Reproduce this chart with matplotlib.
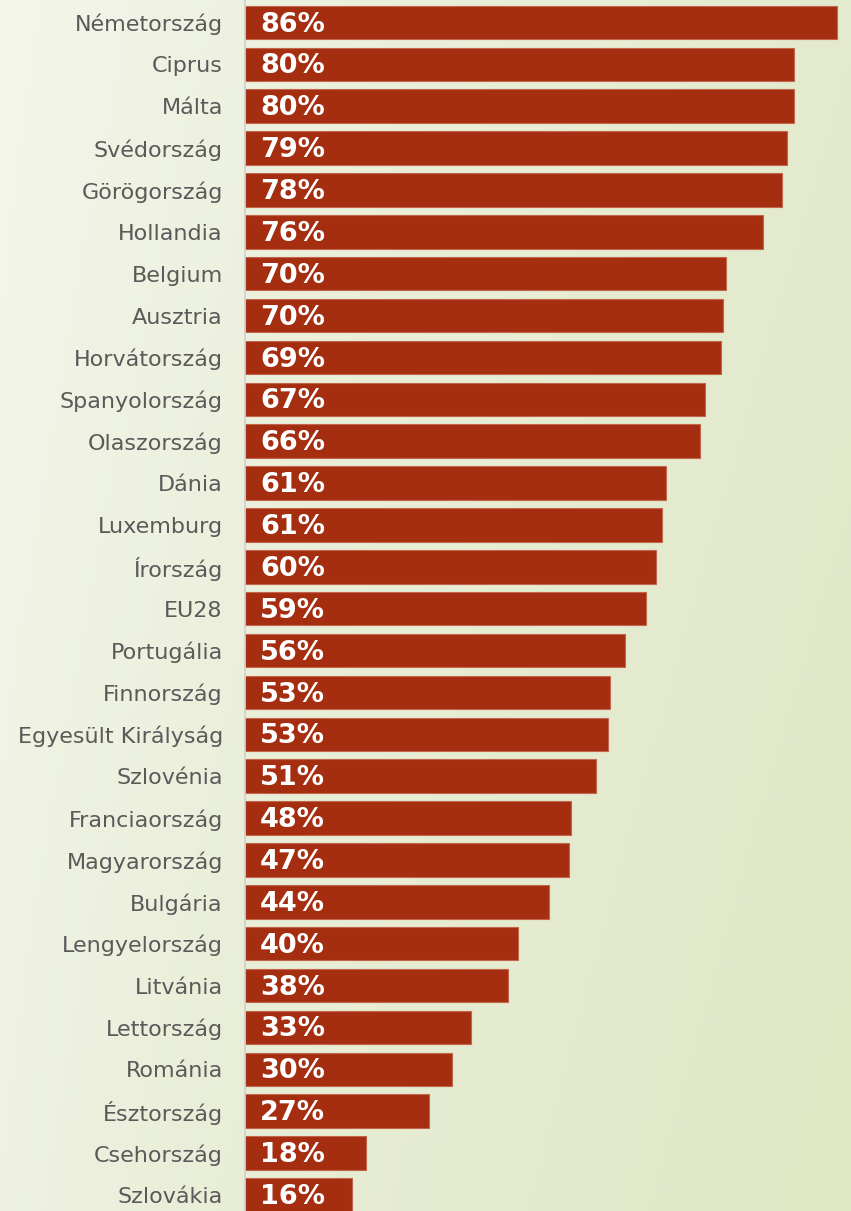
import numpy as np
import matplotlib.pyplot as plt
from matplotlib.colors import LinearSegmentedColormap

# Data (top to bottom)
countries = ["Németország", "Ciprus", "Málta", "Svédország", "Görögország",
             "Hollandia", "Belgium", "Ausztria", "Horvátország", "Spanyolország",
             "Olaszország", "Dánia", "Luxemburg", "Írország", "EU28",
             "Portugália", "Finnország", "Egyesült Királyság", "Szlovénia",
             "Franciaország", "Magyarország", "Bulgária", "Lengyelország",
             "Litvánia", "Lettország", "Románia", "Észtország", "Csehország",
             "Szlovákia"]
values = [86.0, 79.8, 79.8, 78.7, 78.0, 75.2, 69.9, 69.4, 69.1, 66.8,
          66.1, 61.2, 60.6, 59.7, 58.3, 55.2, 53.0, 52.7, 51.0, 47.4,
          47.1, 44.2, 39.7, 38.2, 32.8, 30.1, 26.7, 17.6, 15.5]
labels = ["86%", "80%", "80%", "79%", "78%", "76%", "70%", "70%", "69%", "67%",
          "66%", "61%", "61%", "60%", "59%", "56%", "53%", "53%", "51%", "48%",
          "47%", "44%", "40%", "38%", "33%", "30%", "27%", "18%", "16%"]

W, H = 851, 1211
fig = plt.figure(figsize=(W / 100, H / 100), dpi=100)

# background gradient: near white at left, pale green at right
bg = fig.add_axes([0, 0, 1, 1], zorder=0)
xx = np.linspace(0, 1, 200)
yy = np.linspace(0, 1, 200)
X, Y = np.meshgrid(xx, yy)
grad = np.clip(0.75 * X ** 0.8 + 0.25 * Y, 0, 1)
cmap = LinearSegmentedColormap.from_list("bg", ["#f4f6ec", "#e9eed7", "#dfe7c4"])
bg.imshow(grad, cmap=cmap, aspect="auto", extent=[0, 1, 1, 0])
bg.axis("off")

# main axes
x0 = 245 / W
ax = fig.add_axes([x0, 0, 1 - x0, 1], zorder=1)
ax.patch.set_alpha(0)

pitch = 41.87
y_top = -22.5 / pitch
y_bot = (H - 22.5) / pitch
scale = 6.884
ypos = np.arange(len(countries))

ax.barh(ypos, values, height=0.8, color="#a52e10", edgecolor="#c2654c",
        linewidth=0.8)
for y, lab in zip(ypos, labels):
    ax.text(2.2, y + 0.05, lab, color="white", fontsize=19.5, fontweight="bold",
            va="center", ha="left")

ax.set_xlim(0, (W - 245) / scale)
ax.set_ylim(y_bot, y_top)
ax.set_yticks(ypos)
ax.set_yticklabels(countries, fontsize=16, color="#5a5a5a")
ax.tick_params(axis="y", length=0, pad=16)
ax.set_xticks([])
for s in ["top", "right", "bottom"]:
    ax.spines[s].set_visible(False)
ax.spines["left"].set_color("#d0d0d0")
ax.spines["left"].set_linewidth(1.2)

fig.savefig("out.png", dpi=100)
